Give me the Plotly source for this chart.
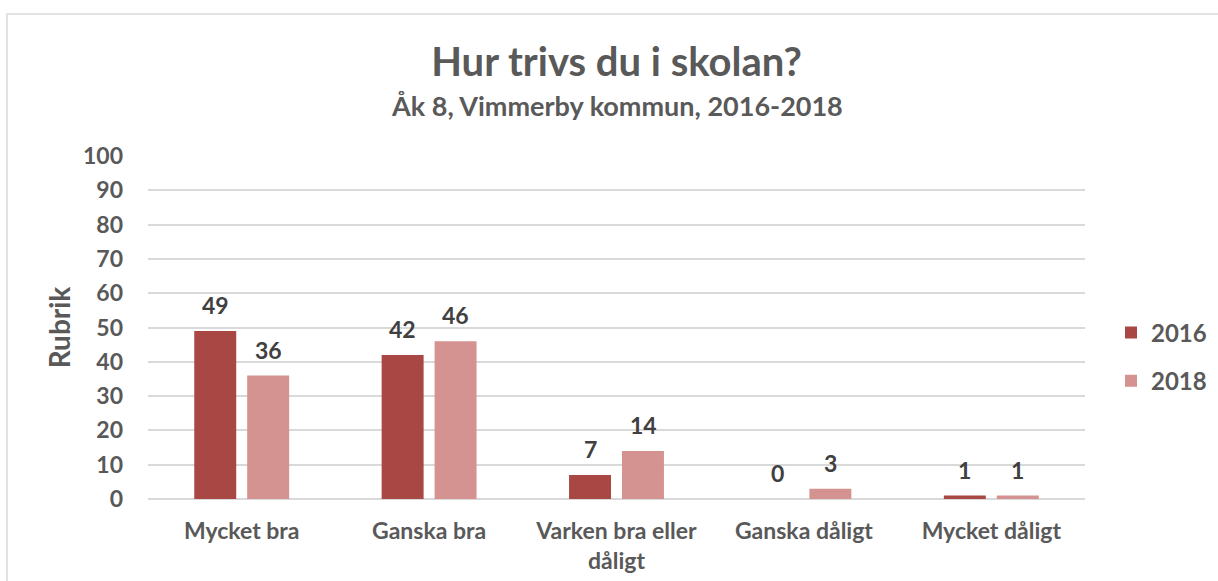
import plotly.graph_objects as go

categories = ["Mycket bra", "Ganska bra", "Varken bra eller<br>dåligt", "Ganska dåligt", "Mycket dåligt"]
series_names = ["2016", "2018"]
values_2016 = [49, 42, 7, 0, 1]
values_2018 = [36, 46, 14, 3, 1]
colors = ["#A94744", "#D49291"]
title_text = "Hur trivs du i skolan?"
subtitle_text = "Åk 8, Vimmerby kommun, 2016-2018"
y_title = "Rubrik"
y_ticks = list(range(0, 101, 10))

FONT = "Lato"
GREY = "#595959"
W, H = 1218, 581
L, R, T, B = 148, 133, 156, 82
PW, PH = W - L - R, H - T - B

fig = go.Figure()
series = [values_2016, values_2018]
for i, (name, vals) in enumerate(zip(series_names, series)):
    fig.add_trace(go.Bar(
        x=categories, y=vals, name=name,
        marker=dict(color=colors[i], line=dict(width=0)),
        legendgroup=name,
        offsetgroup=str(i),
    ))

# data labels
shift = 26.5
for i, vals in enumerate(series):
    for c, v in zip(categories, vals):
        fig.add_annotation(
            x=c, y=v, xref="x", yref="y", text=str(v), showarrow=False,
            xshift=-shift if i == 0 else shift, yshift=26, yanchor="middle",
            font=dict(family=FONT, size=23, color="#404040", weight="bold"),
        )

fig.add_annotation(
    x=0.5, y=(H - B - 105) / PH,
    xref="paper", yref="paper", yanchor="middle",
    text=subtitle_text, showarrow=False,
    font=dict(family=FONT, size=27, color=GREY, weight="bold"),
)

fig.update_layout(
    width=W, height=H,
    margin=dict(l=L, r=R, t=T, b=B, autoexpand=False),
    paper_bgcolor="white", plot_bgcolor="white",
    title=dict(text=title_text, x=0.5, xref="paper", xanchor="center",
               y=1 - 62 / H, yref="container", yanchor="middle",
               font=dict(family=FONT, size=40, color=GREY, weight="bold")),
    bargap=0.435, bargroupgap=0.2075, barmode="group",
    showlegend=True,
    legend=dict(x=1111 / W, y=1 - 357 / H, xref="container", yref="container",
                xanchor="left", yanchor="middle",
                font=dict(family=FONT, size=24, color=GREY, weight="bold"),
                traceorder="grouped", tracegroupgap=14, itemwidth=30),
    xaxis=dict(showgrid=False, showline=False, ticks="", automargin=False,
               ticklabelstandoff=16,
               tickfont=dict(family=FONT, size=23, color=GREY, weight="bold")),
    yaxis=dict(range=[0, 100], tickvals=y_ticks, showgrid=True, gridcolor="#D9D9D9",
               gridwidth=1.5, zeroline=True, zerolinecolor="#D9D9D9", zerolinewidth=1.5,
               ticks="", ticklabelstandoff=24, automargin=False,
               tickfont=dict(family=FONT, size=23, color=GREY, weight="bold"),
               title=dict(text=y_title, standoff=4,
                          font=dict(family=FONT, size=28, color=GREY, weight="bold"))),
    font=dict(family=FONT, color=GREY),
    shapes=[dict(type="rect", xref="paper", yref="paper",
                 x0=(7 - L) / PW, x1=1.3, y0=-0.5, y1=(H - B - 14) / PH,
                 line=dict(color="#D9D9D9", width=1.5), fillcolor="rgba(0,0,0,0)",
                 layer="below")],
)

fig.write_html("out.html", config={"displayModeBar": False},
               post_script="document.body.style.margin='0';")
